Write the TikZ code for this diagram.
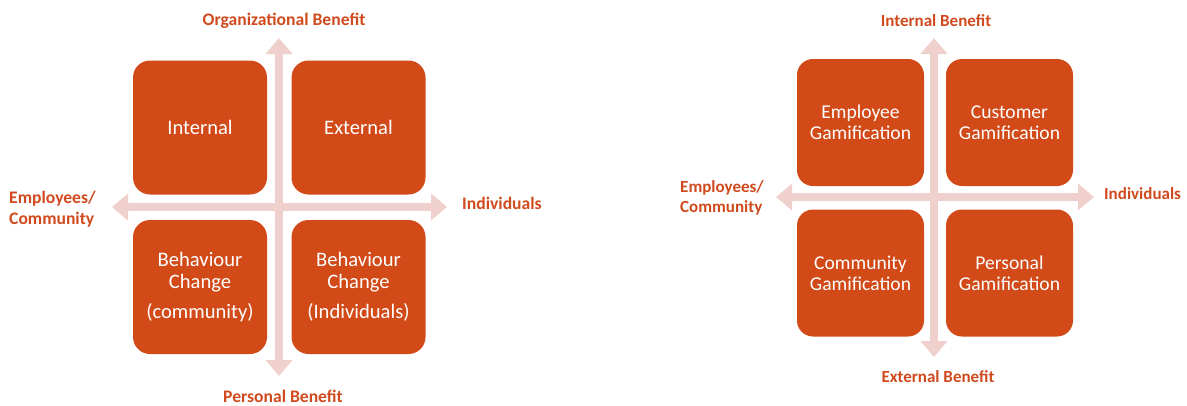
\documentclass[tikz,border=0pt]{standalone}
\usepackage{fontspec}
\setmainfont{Carlito}
\usetikzlibrary{arrows.meta}
\definecolor{boxorange}{RGB}{209,74,24}
\definecolor{labelorange}{RGB}{208,74,30}
\definecolor{axispink}{RGB}{240,208,204}
\begin{document}
\begin{tikzpicture}[x=1pt,y=-1pt,
  quadbox/.style={fill=boxorange, rounded corners=17pt, text=white, align=center,
    minimum width=134pt, minimum height=134pt, inner sep=0pt,
    font=\fontsize{20.6}{22}\selectfont},
  quadboxsm/.style={quadbox, rounded corners=16pt, minimum width=127pt, minimum height=127pt,
    font=\fontsize{19.6}{21}\selectfont},
  axislabel/.style={text=labelorange, inner sep=0pt, align=left,
    font=\fontsize{17.6}{21}\selectfont\bfseries},
  axislabelsm/.style={axislabel, font=\fontsize{17}{20.5}\selectfont\bfseries},
  axis/.style={draw=axispink, line width=8pt,
    {Triangle[width=26pt,length=16pt]}-{Triangle[width=26pt,length=16pt]}}
]
\useasboundingbox (0,0) rectangle (1187,405);

% ---- first quadrant chart ----
\coordinate (La-top) at (279,38);
\coordinate (La-bot) at (279,376);
\coordinate (La-left) at (112,207);
\coordinate (La-right) at (447,207);
\draw[axis] (La-top) -- (La-bot);
\draw[axis] (La-left) -- (La-right);

\node[quadbox] (internal) at (200,127.5) {Internal};
\node[quadbox] (external) at (358.5,127.5) {External};
\node[quadbox] (bcomm) at (200,287) {Behaviour\\Change\\[8pt](community)};
\node[quadbox] (bindiv) at (358.5,287) {Behaviour\\Change\\[8pt](Individuals)};

\node[axislabel] (orgben) at (284,21) {Organizational Benefit};
\node[axislabel, text depth=0pt, anchor=base] (persben) at (283,402) {Personal Benefit};
\node[axislabel, anchor=west] (empcomm) at (9,209) {Employees/\\Community};
\node[axislabel, anchor=west] (indiv) at (462,203) {Individuals};

% ---- second quadrant chart ----
\coordinate (Ra-top) at (934,38);
\coordinate (Ra-bot) at (934,357);
\coordinate (Ra-left) at (776,197);
\coordinate (Ra-right) at (1094,197);
\draw[axis] (Ra-top) -- (Ra-bot);
\draw[axis] (Ra-left) -- (Ra-right);

\node[quadboxsm] (empgam) at (860.5,122.5) {Employee\\Gamification};
\node[quadboxsm] (custgam) at (1009.5,122.5) {Customer\\Gamification};
\node[quadboxsm] (commgam) at (860.5,273) {Community\\Gamification};
\node[quadboxsm] (persgam) at (1009.5,273) {Personal\\Gamification};

\node[axislabelsm] (intben) at (936,21) {Internal Benefit};
\node[axislabelsm] (extben) at (938,377) {External Benefit};
\node[axislabelsm, anchor=west] (empcomm2) at (680,198) {Employees/\\Community};
\node[axislabelsm, anchor=west] (indiv2) at (1104,194) {Individuals};
\end{tikzpicture}
\end{document}
